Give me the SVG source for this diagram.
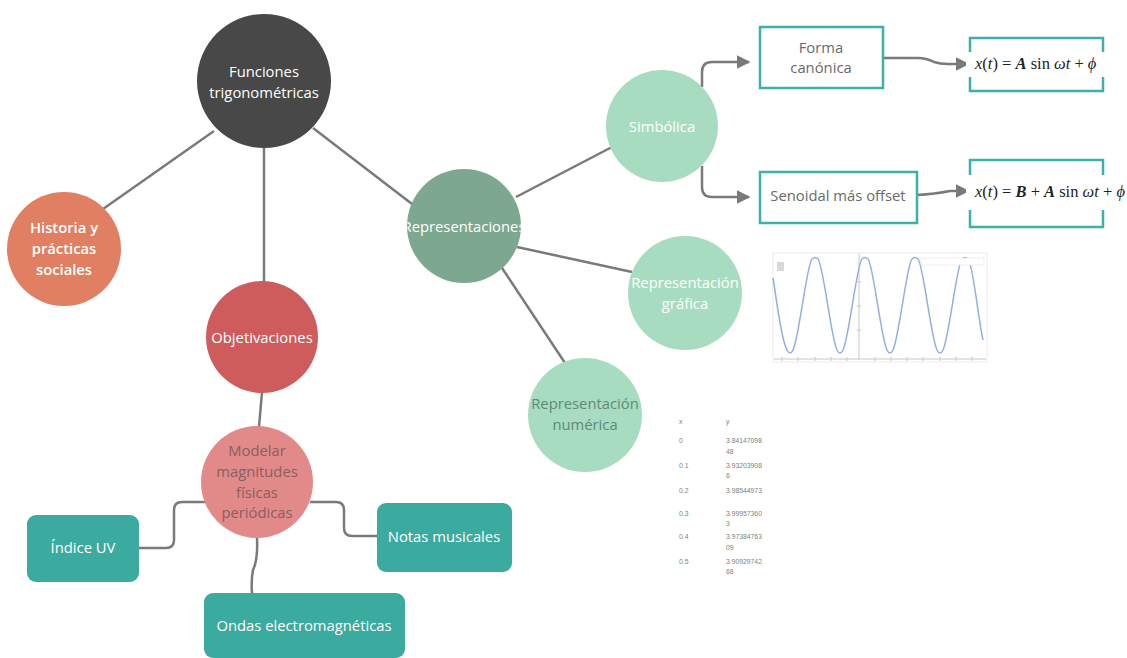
<svg xmlns="http://www.w3.org/2000/svg" width="1127" height="658" viewBox="0 0 1127 658">
<defs>
<style>
.t{font-family:"Open Sans","Liberation Sans",sans-serif;font-size:14.8px;text-anchor:middle}
.w{fill:#ffffff}
.g{fill:#6a6a6a}
.c{fill:none;stroke:#7a7a7a;stroke-width:2.5}
.box{fill:#ffffff;stroke:#3cb0ab;stroke-width:2.5}
.teal{fill:#3aab9e}
.tb{font-family:"Liberation Sans",Arial,sans-serif;font-size:6.8px;fill:#808080}
.f{font-family:"Liberation Serif","DejaVu Serif",serif;font-size:16.5px;fill:#222}
.i{font-style:italic}
</style>
<marker id="ah" viewBox="0 0 10 10" refX="9" refY="5" markerWidth="5.5" markerHeight="5.5" orient="auto" markerUnits="strokeWidth">
<path d="M0,0 L10,5 L0,10 z" fill="#7a7a7a"/>
</marker>
<clipPath id="clipRep"><circle cx="464" cy="226" r="57"/></clipPath>
<clipPath id="clipGraf"><circle cx="685" cy="293" r="57"/></clipPath>
</defs>
<rect width="1127" height="658" fill="#ffffff"/>

<g id="connectors">
<line class="c" x1="214" y1="131" x2="103" y2="209"/>
<line class="c" x1="264" y1="148" x2="264" y2="283"/>
<line class="c" x1="313" y1="128" x2="412" y2="204"/>
<line class="c" x1="262" y1="392" x2="259" y2="427"/>
<path class="c" d="M205,502 H182 Q174,502 174,510 V540 Q174,548 166,548 H139"/>
<path class="c" d="M310,502 H336 Q344,502 344,510 V528 Q344,536 352,536 H377"/>
<path class="c" d="M257,538 Q258,560 253,570 Q251,580 252,593"/>
<line class="c" x1="516" y1="197" x2="612" y2="147"/>
<line class="c" x1="517" y1="247" x2="632" y2="272"/>
<line class="c" x1="502" y1="268" x2="565" y2="363"/>
<path class="c" d="M702,87 V72 Q702,62 712,62 H749" marker-end="url(#ah)"/>
<path class="c" d="M702,166 V187 Q702,197 712,197 H749" marker-end="url(#ah)"/>
<path class="c" d="M883,58 H918 Q926,58 934,62 Q940,64 948,64 H968" marker-end="url(#ah)"/>
<path class="c" d="M917,195 Q935,194 950,191 H968" marker-end="url(#ah)"/>
</g>

<g id="funciones">
<circle cx="264" cy="81" r="67" fill="#484848"/>
<text class="t w" x="264" y="77">Funciones</text>
<text class="t w" x="264" y="98">trigonométricas</text>
</g>

<g id="historia">
<circle cx="64" cy="249" r="57" fill="#e07f61"/>
<text class="t w" x="64" y="233" font-weight="600">Historia y</text>
<text class="t w" x="64" y="254" font-weight="600">prácticas</text>
<text class="t w" x="64" y="275" font-weight="600">sociales</text>
</g>

<g id="objetivaciones">
<circle cx="262" cy="337" r="56" fill="#cf5c5c"/>
<text class="t w" x="262" y="343">Objetivaciones</text>
</g>

<g id="modelar">
<circle cx="257" cy="482" r="56" fill="#e28a8a"/>
<text class="t" x="257" y="456" fill="#8a5e5e">Modelar</text>
<text class="t" x="257" y="477" fill="#8a5e5e">magnitudes</text>
<text class="t" x="257" y="498" fill="#8a5e5e">físicas</text>
<text class="t" x="257" y="518" fill="#8a5e5e">periódicas</text>
</g>

<g id="indice">
<rect class="teal" x="27" y="515" width="112" height="67" rx="9"/>
<text class="t w" x="83" y="553">Índice UV</text>
</g>

<g id="notas">
<rect class="teal" x="377" y="503" width="135" height="69" rx="9"/>
<text class="t w" x="444" y="542">Notas musicales</text>
</g>

<g id="ondas">
<rect class="teal" x="204" y="593" width="201" height="65" rx="9"/>
<text class="t w" x="304" y="631">Ondas electromagnéticas</text>
</g>

<g id="representaciones">
<circle cx="464" cy="226" r="57" fill="#7da78f"/>
<text class="t w" x="464" y="232" font-size="15.5" clip-path="url(#clipRep)">Representaciones</text>
</g>

<g id="simbolica">
<circle cx="662" cy="126" r="56" fill="#a8dcc1"/>
<text class="t w" x="662" y="132">Simbólica</text>
</g>

<g id="grafica">
<circle cx="685" cy="293" r="57" fill="#a8dcc1"/>
<text class="t w" x="685" y="288" font-size="15.5" clip-path="url(#clipGraf)">Representación</text>
<text class="t w" x="685" y="309">gráfica</text>
</g>

<g id="numerica">
<circle cx="585" cy="415" r="57" fill="#a8dcc1"/>
<text class="t" x="585" y="409" fill="#5f8a74">Representación</text>
<text class="t" x="585" y="430" fill="#5f8a74">numérica</text>
</g>

<g id="forma">
<rect class="box" x="760" y="27" width="123" height="61"/>
<text class="t g" x="821" y="53">Forma</text>
<text class="t g" x="821" y="73">canónica</text>
</g>

<g id="senoidal">
<rect class="box" x="760" y="172" width="157" height="51"/>
<text class="t g" x="838" y="201">Senoidal más offset</text>
</g>

<g id="formula1">
<rect class="box" x="970" y="38" width="133" height="53"/>
<rect x="966" y="52" width="142" height="25" fill="#ffffff"/>
<text class="f" x="975" y="69"><tspan class="i">x</tspan>(<tspan class="i">t</tspan>) = <tspan class="i" font-weight="bold">A</tspan> sin <tspan class="i">ωt</tspan> + <tspan class="i">ϕ</tspan></text>
</g>

<g id="formula2">
<rect class="box" x="970" y="160" width="133" height="67"/>
<rect x="966" y="175" width="161" height="35" fill="#ffffff"/>
<text class="f" x="975" y="197"><tspan class="i">x</tspan>(<tspan class="i">t</tspan>) = <tspan class="i" font-weight="bold">B</tspan> + <tspan class="i" font-weight="bold">A</tspan> sin <tspan class="i">ωt</tspan> + <tspan class="i">ϕ</tspan></text>
</g>

<g id="grafico">
<rect x="773" y="253" width="214" height="109" fill="#ffffff" stroke="#ececec" stroke-width="1"/>
<line x1="859" y1="254" x2="859" y2="360" stroke="#c8c8c8" stroke-width="1"/>
<line x1="774" y1="359" x2="986" y2="359" stroke="#c8c8c8" stroke-width="1"/>
<g stroke="#c8c8c8" stroke-width="1">
<line x1="782" y1="357" x2="782" y2="361"/><line x1="798" y1="357" x2="798" y2="361"/><line x1="815" y1="357" x2="815" y2="361"/><line x1="831" y1="357" x2="831" y2="361"/><line x1="847" y1="357" x2="847" y2="361"/>
<line x1="875" y1="357" x2="875" y2="361"/><line x1="891" y1="357" x2="891" y2="361"/><line x1="907" y1="357" x2="907" y2="361"/><line x1="923" y1="357" x2="923" y2="361"/><line x1="940" y1="357" x2="940" y2="361"/><line x1="956" y1="357" x2="956" y2="361"/><line x1="972" y1="357" x2="972" y2="361"/>
<line x1="857" y1="282" x2="861" y2="282"/><line x1="857" y1="306" x2="861" y2="306"/><line x1="857" y1="330" x2="861" y2="330"/>
</g>
<rect x="777" y="262" width="7" height="9" fill="#d8d8d8"/>
<path d="M773,278 C776,295 781,340 787,350 C789,354 791,354 793,350 C799,338 807,263 812,259 C814,257 816,257 818,259 C823,263 831,338 837,350 C839,354 841,354 843,350 C849,338 857,263 862,259 C864,257 866,257 868,259 C873,263 881,338 887,350 C889,354 891,354 893,350 C899,338 907,263 912,259 C914,257 916,257 918,259 C923,263 931,338 937,350 C939,354 941,354 943,350 C949,338 957,263 962,259 C964,257 966,257 968,259 C973,263 978,318 983,340" fill="none" stroke="#8fb0e0" stroke-width="1.5"/>
<rect x="921" y="258" width="63" height="7" fill="#ffffff" stroke="#e4e4e4" stroke-width="0.6"/>
</g>

<g id="tabla">
<text class="tb" x="679" y="424">x</text>
<text class="tb" x="726" y="424">y</text>
<text class="tb" x="679" y="443">0</text>
<text class="tb" x="726" y="443">3.84147098</text>
<text class="tb" x="726" y="454">48</text>
<text class="tb" x="679" y="468">0.1</text>
<text class="tb" x="726" y="468">3.93203908</text>
<text class="tb" x="726" y="478">6</text>
<text class="tb" x="679" y="493">0.2</text>
<text class="tb" x="726" y="493">3.98544973</text>
<text class="tb" x="679" y="516">0.3</text>
<text class="tb" x="726" y="516">3.99957360</text>
<text class="tb" x="726" y="526">3</text>
<text class="tb" x="679" y="539">0.4</text>
<text class="tb" x="726" y="539">3.97384763</text>
<text class="tb" x="726" y="550">09</text>
<text class="tb" x="679" y="564">0.5</text>
<text class="tb" x="726" y="564">3.90929742</text>
<text class="tb" x="726" y="574">68</text>
</g>
</svg>
